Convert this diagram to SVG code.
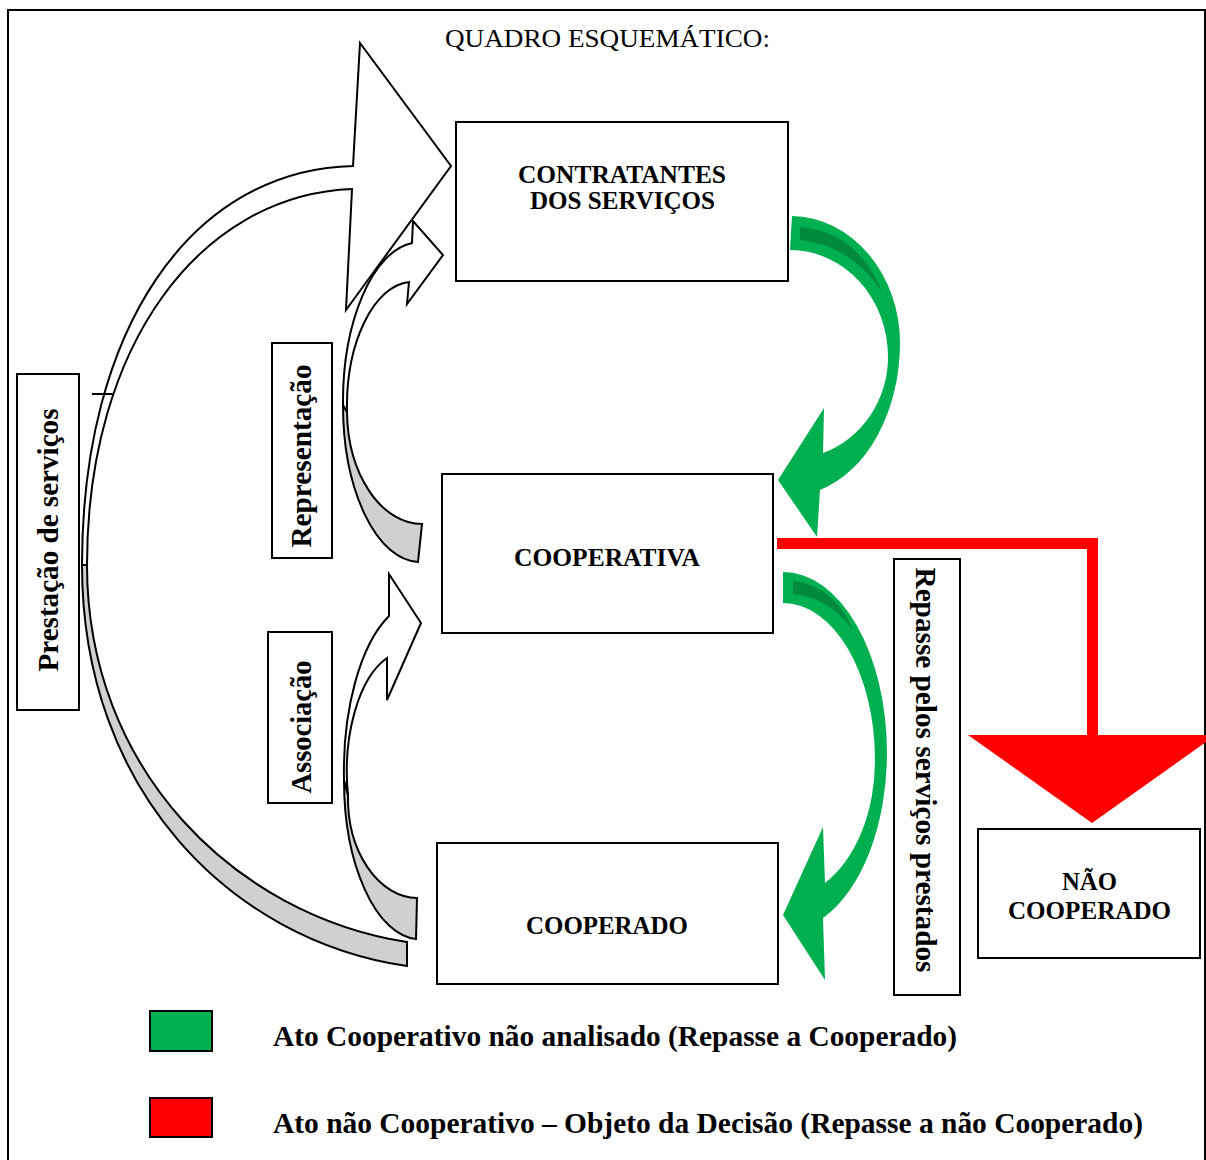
<svg xmlns="http://www.w3.org/2000/svg" width="1206" height="1160" viewBox="0 0 1206 1160">
<style>
.box{fill:#fff;stroke:#000;stroke-width:2}
.t{font-family:"Liberation Serif","Times New Roman",serif;font-weight:bold;fill:#000}
.c{text-anchor:middle}
.aw{fill:#fff;stroke:#000;stroke-width:2;stroke-linejoin:miter}
.ag{fill:#d0d0d0;stroke:#000;stroke-width:2}
.green{fill:#00b050}
.dark{fill:#008a3e}
</style>
<rect x="0" y="0" width="1206" height="1160" fill="#fff"/>
<rect x="8" y="10" width="1197" height="1160" fill="none" stroke="#000" stroke-width="2"/>
<text x="445" y="47" font-family="Liberation Serif, Times New Roman, serif" font-size="26" textLength="325" lengthAdjust="spacingAndGlyphs">QUADRO ESQUEMÁTICO:</text>

<g id="connectors">
  <!-- Prestação de serviços big curved arrow -->
  <path class="ag" d="M 82,565 C 82,790 230,940 407,966 L 407,942 C 235,915 87,770 87,565 Z"/>
  <path class="aw" d="M 82,565 C 82,330 190,170 353,166 L 360,43 L 451,166 L 346,310 L 352,189 C 200,195 87,345 87,565 Z"/>
  <line x1="92" y1="394" x2="114" y2="394" stroke="#000" stroke-width="2"/>
  <!-- Representação arrow -->
  <path class="ag" d="M 343,405 A 77 157 0 0 0 418,562 L 422,524 A 75 114 0 0 1 347,412 Z"/>
  <path class="aw" d="M 343,405 A 77 160 0 0 1 412,243 L 413,221 L 443,255 L 407,304 L 409,282 A 66 125 0 0 0 347,412 Z"/>
  <!-- Associação arrow -->
  <path class="ag" d="M 344,780 A 76 159 0 0 0 416,939 L 417,898 A 70 100 0 0 1 348,795 Z"/>
  <path class="aw" d="M 344,780 A 76 170 0 0 1 389,616 L 389,574 L 421,623 L 387,700 L 387,658 A 60 120 0 0 0 348,795 Z"/>
  <!-- green arrow contratantes -> cooperativa -->
  <path class="green" d="M 792,216 A 110 127 0 0 1 900,343 A 110 153 0 0 1 820,490 L 817,537 L 778,480 L 824,408 L 823,453 A 98 102 0 0 0 888,357 A 98 107 0 0 0 790,250 Z"/>
  <path class="dark" d="M 800,227 Q 858,232 882,292 Q 852,246 800,240 Z"/>
  <!-- green arrow cooperativa -> cooperado -->
  <path class="green" d="M 783,572 A 104 181 0 0 1 887,753 A 104 179 0 0 1 823,918 L 825,980 L 783,915 L 823,827 L 825,883 A 92 138 0 0 0 875,760 A 92 157 0 0 0 783,603 Z"/>
  <path class="dark" d="M 793,581 Q 835,586 853,630 Q 828,597 793,594 Z"/>
  <!-- red connector to não cooperado -->
  <polyline points="777,543.5 1092.5,543.5 1092.5,740" fill="none" stroke="#ff0000" stroke-width="11" stroke-linejoin="miter"/>
  <polygon points="968,735 1216,735 1092,823" fill="#ff0000"/>
</g>

<g id="node-contratantes">
  <rect class="box" x="456" y="122" width="332" height="159"/>
  <text class="t c" x="622" y="183" font-size="25" textLength="208" lengthAdjust="spacingAndGlyphs">CONTRATANTES</text>
  <text class="t c" x="622.5" y="209" font-size="25" textLength="185" lengthAdjust="spacingAndGlyphs">DOS SERVIÇOS</text>
</g>
<g id="node-cooperativa">
  <rect class="box" x="442" y="474" width="331" height="159"/>
  <text class="t c" x="607" y="566" font-size="25" textLength="186" lengthAdjust="spacingAndGlyphs">COOPERATIVA</text>
</g>
<g id="node-cooperado">
  <rect class="box" x="437" y="843" width="341" height="141"/>
  <text class="t c" x="607" y="934" font-size="25" textLength="162" lengthAdjust="spacingAndGlyphs">COOPERADO</text>
</g>
<g id="node-nao-cooperado">
  <rect class="box" x="978" y="829" width="222" height="129"/>
  <text class="t c" x="1089.5" y="890" font-size="25" textLength="55" lengthAdjust="spacingAndGlyphs">NÃO</text>
  <text class="t c" x="1089.5" y="919" font-size="25" textLength="163" lengthAdjust="spacingAndGlyphs">COOPERADO</text>
</g>
<g id="label-prestacao">
  <rect class="box" x="17" y="374" width="62" height="336"/>
  <text class="t c" transform="translate(58,540) rotate(-90)" font-size="30" textLength="263" lengthAdjust="spacingAndGlyphs">Prestação de serviços</text>
</g>
<g id="label-representacao">
  <rect class="box" x="272" y="343" width="60" height="215"/>
  <text class="t c" transform="translate(311,456) rotate(-90)" font-size="30" textLength="183" lengthAdjust="spacingAndGlyphs">Representação</text>
</g>
<g id="label-associacao">
  <rect class="box" x="268" y="632" width="64" height="171"/>
  <text class="t c" transform="translate(311,727) rotate(-90)" font-size="30" textLength="133" lengthAdjust="spacingAndGlyphs">Associação</text>
</g>
<g id="label-repasse">
  <rect class="box" x="894" y="559" width="66" height="436"/>
  <text class="t c" transform="translate(916,770) rotate(90)" font-size="30" textLength="405" lengthAdjust="spacingAndGlyphs">Repasse pelos serviços prestados</text>
</g>
<g id="legend">
  <rect x="150" y="1011" width="62" height="40" fill="#00b050" stroke="#000" stroke-width="2"/>
  <text class="t" x="273" y="1046" font-size="30" textLength="684" lengthAdjust="spacingAndGlyphs">Ato Cooperativo não analisado (Repasse a Cooperado)</text>
  <rect x="150" y="1098" width="62" height="39" fill="#ff0000" stroke="#000" stroke-width="2"/>
  <text class="t" x="273" y="1133" font-size="30" textLength="870" lengthAdjust="spacingAndGlyphs">Ato não Cooperativo – Objeto da Decisão (Repasse a não Cooperado)</text>
</g>
</svg>
